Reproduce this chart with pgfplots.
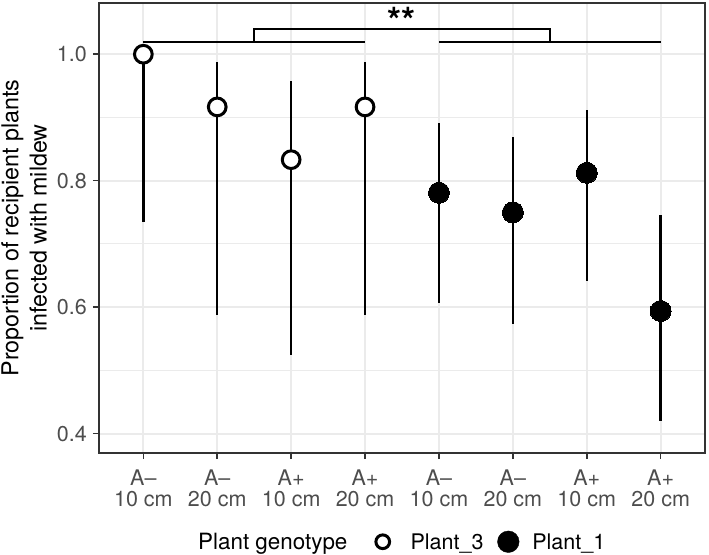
\documentclass[border=0pt]{standalone}
\usepackage{pgfplots}
\pgfplotsset{compat=1.18}
\usepackage{pgfplotstable}
\usepackage{fontspec}
\setmainfont{TeX Gyre Heros}
\definecolor{grey92}{HTML}{EBEBEB}
\definecolor{grey30}{HTML}{4D4D4D}
\definecolor{grey20}{HTML}{333333}

\pgfplotstableread{
x y lo hi
1 1.0 0.735 1.0
2 0.9167 0.587 0.987
3 0.8333 0.524 0.957
4 0.9167 0.587 0.987
}\plantthree
\pgfplotstableread{
x y lo hi
5 0.781 0.607 0.891
6 0.75 0.574 0.869
7 0.8125 0.641 0.912
8 0.594 0.4195 0.746
}\plantone

\begin{document}
\begin{tikzpicture}
\begin{axis}[
  scale only axis, width=606pt, height=450pt,
  xmin=0.4, xmax=8.6, ymin=0.3695, ymax=1.081,
  clip=false,
  xtick={1,2,3,4,5,6,7,8},
  xticklabels={{A–\\10 cm},{A–\\20 cm},{A+\\10 cm},{A+\\20 cm},{A–\\10 cm},{A–\\20 cm},{A+\\10 cm},{A+\\20 cm}},
  ytick={0.4,0.6,0.8,1.0},
  minor ytick={0.5,0.7,0.9},
  /pgf/number format/assume math mode=true,
  yticklabel={\pgfmathprintnumber[fixed,fixed zerofill,precision=1]{\tick}},
  grid=both,
  major grid style={grey92, line width=2pt},
  minor grid style={grey92, line width=1pt},
  axis line style={grey20, line width=1.5pt},
  major tick style={grey20, line width=1.5pt},
  minor tick length=0pt,
  tick align=outside, major tick length=6pt,
  tick pos=left,
  yticklabel style={font=\fontsize{21.5}{22}\selectfont, text=grey30, inner sep=0pt, xshift=-6pt},
  xticklabel style={font=\fontsize{21.5}{20.7}\selectfont, text=grey30, align=center, inner sep=0pt, yshift=-11pt},
  ylabel={Proportion of recipient plants\\infected with mildew},
  ylabel style={align=center, font=\fontsize{23.3}{28.2}\selectfont, at={(axis description cs:-0.1236,0.5)}, anchor=center},
  legend columns=-1,
  legend style={draw=none, fill=none, inner sep=0pt, outer sep=0pt,
    at={(axis description cs:0.1637,-0.1972)}, anchor=west,
    font=\fontsize{21.5}{24}\selectfont,
    nodes={inner sep=0pt}, cells={anchor=base west}, column sep=0pt,
    /tikz/column 2/.style={column sep=27pt},
    /tikz/column 3/.style={column sep=19.5pt},
    /tikz/column 4/.style={column sep=13.8pt},
    /tikz/column 5/.style={column sep=13pt}},
]
\addlegendimage{empty legend}
\addlegendentry{\fontsize{22.4}{24}\selectfont Plant genotype}

% significance brackets
\addplot[black, line width=2.4pt, forget plot] coordinates {(1,1.019) (4,1.019)};
\addplot[black, line width=2.4pt, forget plot] coordinates {(5,1.019) (8,1.019)};
\addplot[black, line width=2.4pt, forget plot] coordinates {(2.5,1.019) (2.5,1.0395) (6.5,1.0395) (6.5,1.019)};

% error bars (drawn first, under the points)
\addplot[forget plot, only marks, mark=none,
  error bars/.cd, y dir=both, y explicit, error mark=none,
  error bar style={line width=2.5pt, black}]
  table[x=x, y=y, y error plus expr=\thisrow{hi}-\thisrow{y}, y error minus expr=\thisrow{y}-\thisrow{lo}] {\plantthree};
\addplot[forget plot, only marks, mark=none,
  error bars/.cd, y dir=both, y explicit, error mark=none,
  error bar style={line width=2.5pt, black}]
  table[x=x, y=y, y error plus expr=\thisrow{hi}-\thisrow{y}, y error minus expr=\thisrow{y}-\thisrow{lo}] {\plantone};

% points
\addplot[only marks, mark=*, mark size=8.85pt,
  mark options={fill=white, draw=black, line width=3pt},
  legend image code/.code={\draw[black, line width=3pt, fill=white] (0pt,7.5pt) circle (6.85pt);}]
  table[x=x, y=y] {\plantthree};
\addlegendentry{Plant\_3}

\addplot[only marks, mark=*, mark size=10.5pt,
  mark options={fill=black, draw=black, line width=0pt},
  legend image code/.code={\fill[black] (0pt,7.5pt) circle (10.8pt);}]
  table[x=x, y=y] {\plantone};
\addlegendentry{Plant\_1}

\node[font=\fontsize{36}{40}\bfseries\selectfont, anchor=base] at (axis cs:4.5,1.0324) {**};
\end{axis}
\pgfresetboundingbox
\path[use as bounding box] (-99pt,-101pt) rectangle (610pt,453pt);
\end{tikzpicture}
\end{document}
